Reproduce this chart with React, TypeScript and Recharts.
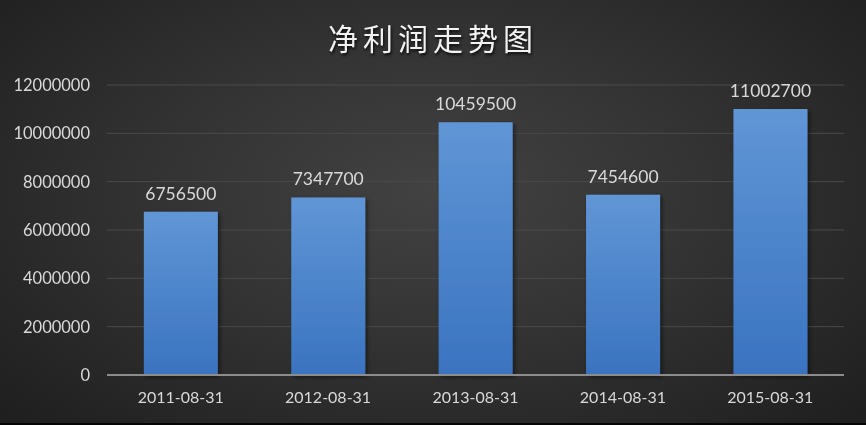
import React from 'react';
import { BarChart, Bar, XAxis, YAxis, CartesianGrid, LabelList } from 'recharts';

const categories = ['2011-08-31', '2012-08-31', '2013-08-31', '2014-08-31', '2015-08-31'];
const profits = [6756500, 7347700, 10459500, 7454600, 11002700];
const yTicks = [0, 2000000, 4000000, 6000000, 8000000, 10000000, 12000000];

const data = categories.map((date, i) => ({ date, profit: profits[i] }));

const FONT = 'Lato, "Liberation Sans", sans-serif';

export default function App() {
  return (
    <div
      style={{
        position: 'fixed',
        left: 0,
        top: 0,
        width: 866,
        height: 425,
        overflow: 'hidden',
        background: 'radial-gradient(ellipse 70% 80% at 50% 45%, #424242 0%, #333333 45%, #1e1e1e 100%)',
        boxSizing: 'border-box',
        borderBottom: '2px solid #050505',
        fontFamily: FONT,
      }}
    >
      <div
        style={{
          position: 'absolute',
          left: 0,
          top: 17,
          width: 866,
          textAlign: 'center',
          color: '#f2f2f2',
          fontSize: 30,
          letterSpacing: 5,
          lineHeight: '40px',
          fontFamily: '"Noto Sans CJK SC", sans-serif',
          fontWeight: 400,
          textShadow: '1px 2px 3px rgba(0,0,0,0.8)',
        }}
      >
        净利润走势图
      </div>
      <BarChart
        width={866}
        height={423}
        data={data}
        margin={{ top: 85, right: 22, bottom: 18, left: 0 }}
        barCategoryGap="25%"
        style={{ position: 'absolute', left: 0, top: 0 }}
      >
        <defs>
          <linearGradient id="barGrad" x1="0" y1="0" x2="0" y2="1">
            <stop offset="0%" stopColor="#6096d6" />
            <stop offset="100%" stopColor="#3a73c0" />
          </linearGradient>
          <filter id="barShadow" x="-20%" y="-20%" width="140%" height="140%">
            <feDropShadow dx="2" dy="2" stdDeviation="2" floodColor="#000" floodOpacity="0.5" />
          </filter>
        </defs>
        <CartesianGrid vertical={false} stroke="#4a4a4a" strokeWidth={1} />
        <XAxis
          dataKey="date"
          axisLine={{ stroke: '#8c8c8c', strokeWidth: 2 }}
          tickLine={false}
          tickMargin={11}
          tick={{ fill: '#d9d9d9', fontSize: 16, fontFamily: FONT }}
        />
        <YAxis
          width={107}
          domain={[0, 12000000]}
          ticks={yTicks}
          interval={0}
          axisLine={false}
          tickLine={false}
          tickMargin={11}
          tick={{ fill: '#d9d9d9', fontSize: 16.5, fontFamily: FONT }}
        />
        <Bar
          dataKey="profit"
          fill="url(#barGrad)"
          filter="url(#barShadow)"
          isAnimationActive={false}
        >
          <LabelList
            dataKey="profit"
            position="top"
            offset={12}
            fill="#d9d9d9"
            fontSize={17.5}
            fontFamily={FONT}
          />
        </Bar>
      </BarChart>
    </div>
  );
}
